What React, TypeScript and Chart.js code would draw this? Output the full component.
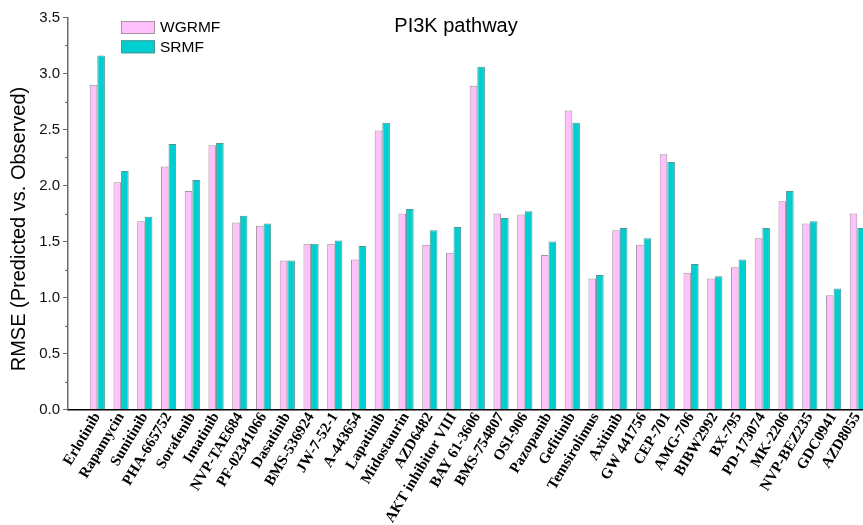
import React, { useEffect, useRef } from 'react';
import { Chart, registerables } from 'chart.js';

Chart.register(...registerables);

// Drugs on the x axis, in plotted order
const drugs = [
  'Erlotinib', 'Rapamycin', 'Sunitinib', 'PHA-665752', 'Sorafenib', 'Imatinib',
  'NVP-TAE684', 'PF-02341066', 'Dasatinib', 'BMS-536924', 'JW-7-52-1', 'A-443654',
  'Lapatinib', 'Midostaurin', 'AZD6482', 'AKT inhibitor VIII', 'BAY 61-3606',
  'BMS-754807', 'OSI-906', 'Pazopanib', 'Gefitinib', 'Temsirolimus', 'Axitinib',
  'GW 441756', 'CEP-701', 'AMG-706', 'BIBW2992', 'BX-795', 'PD-173074', 'MK-2206',
  'NVP-BEZ235', 'GDC0941', 'AZD8055',
];

// RMSE per drug
const wgrmf = [
  2.90, 2.03, 1.68, 2.17, 1.95, 2.36, 1.67, 1.64, 1.33, 1.48, 1.48, 1.34,
  2.49, 1.75, 1.47, 1.40, 2.89, 1.75, 1.74, 1.38, 2.67, 1.17, 1.60, 1.47,
  2.28, 1.22, 1.17, 1.27, 1.53, 1.86, 1.66, 1.02, 1.75,
];
const srmf = [
  3.16, 2.13, 1.72, 2.37, 2.05, 2.38, 1.73, 1.66, 1.33, 1.48, 1.51, 1.46,
  2.56, 1.79, 1.60, 1.63, 3.06, 1.71, 1.77, 1.50, 2.56, 1.20, 1.62, 1.53,
  2.21, 1.30, 1.19, 1.34, 1.62, 1.95, 1.68, 1.08, 1.62,
];

const seriesNames = ['WGRMF', 'SRMF'];
const yMin = 0;
const yMax = 3.5;
const yStep = 0.5;

const TITLE = 'PI3K pathway';
const Y_TITLE = 'RMSE (Predicted vs. Observed)';

const PINK = '#FFC1FB';
const PINK_EDGE = '#A4929F';
const TEAL = '#00CED1';
const TEAL_EDGE = '#4F9696';
const AXIS_GRAY = '#6A6A6A';
const SANS = '"Liberation Sans", Arial, sans-serif';
const SERIF = '"Liberation Serif", "Times New Roman", serif';

// Title, rotated y title, inset legend and minor y ticks
const overlay = {
  id: 'overlay',
  afterDraw(chart: any) {
    const { ctx, chartArea, scales } = chart;
    const y = scales.y;
    ctx.save();

    ctx.strokeStyle = AXIS_GRAY;
    ctx.lineWidth = 1;
    const ticks = y.ticks;
    for (let i = 0; i < ticks.length - 1; i++) {
      const v = (ticks[i].value + ticks[i + 1].value) / 2;
      const py = Math.round(y.getPixelForValue(v)) + 0.5;
      ctx.beginPath();
      ctx.moveTo(chartArea.left - 3, py);
      ctx.lineTo(chartArea.left, py);
      ctx.stroke();
    }

    ctx.fillStyle = '#000';
    ctx.font = `20px ${SANS}`;
    ctx.textAlign = 'center';
    ctx.textBaseline = 'alphabetic';
    ctx.fillText(TITLE, 456, 32);

    ctx.save();
    ctx.translate(19, 229);
    ctx.rotate(-Math.PI / 2);
    ctx.textBaseline = 'middle';
    ctx.fillText(Y_TITLE, 0, 0);
    ctx.restore();

    ctx.font = `15.5px ${SANS}`;
    ctx.textAlign = 'left';
    ctx.textBaseline = 'middle';
    chart.data.datasets.forEach((ds: any, i: number) => {
      const bx = 121;
      const by = 21 + i * 19.3;
      ctx.fillStyle = ds.backgroundColor;
      ctx.fillRect(bx, by, 34, 13);
      ctx.strokeStyle = ds.borderColor;
      ctx.lineWidth = 1;
      ctx.strokeRect(bx + 0.5, by + 0.5, 33, 12);
      ctx.fillStyle = '#000';
      ctx.fillText(ds.label, 160, by + 7);
    });

    ctx.restore();
  },
};

export default function App() {
  const canvasRef = useRef<HTMLCanvasElement | null>(null);

  useEffect(() => {
    const canvas = canvasRef.current;
    if (!canvas) return;

    const toPoints = (vals: number[]) => vals.map((v, i) => ({ x: i, y: v }));

    const chart = new Chart(canvas, {
      type: 'bar',
      data: {
        datasets: [
          {
            label: seriesNames[0],
            data: toPoints(wgrmf),
            backgroundColor: PINK,
            borderColor: PINK_EDGE,
            borderWidth: 1,
          },
          {
            label: seriesNames[1],
            data: toPoints(srmf),
            backgroundColor: TEAL,
            borderColor: TEAL_EDGE,
            borderWidth: 1,
          },
        ],
      },
      options: {
        responsive: false,
        animation: false,
        events: [],
        layout: { padding: { top: 17.5, left: 0, right: 0, bottom: 0 } },
        datasets: {
          bar: { categoryPercentage: 0.64, barPercentage: 1 },
        },
        plugins: {
          legend: { display: false },
          title: { display: false },
          tooltip: { enabled: false },
        },
        scales: {
          x: {
            type: 'linear',
            offset: false,
            min: -1.234,
            max: 32.24,
            grid: { display: false, drawTicks: false, offset: false },
            border: { display: true, color: '#000', width: 1.5 },
            ticks: {
              autoSkip: false,
              minRotation: 59,
              maxRotation: 59,
              padding: 0,
              color: '#000',
              font: { family: SERIF, weight: 'bold', size: 15 },
              callback: (value: any) => drugs[Math.round(Number(value))] ?? '',
            },
            afterBuildTicks: (scale: any) => {
              scale.ticks = drugs.map((_, i) => ({ value: i }));
            },
            afterFit: (scale: any) => {
              scale.height = 115.5;
              scale.paddingLeft = 0;
              scale.paddingRight = 0;
            },
          },
          y: {
            min: yMin,
            max: yMax,
            grid: {
              display: true,
              drawOnChartArea: false,
              drawTicks: true,
              tickLength: 5,
              color: AXIS_GRAY,
            },
            border: { display: true, color: AXIS_GRAY, width: 1.5 },
            ticks: {
              stepSize: yStep,
              padding: 3,
              color: '#111',
              font: { family: SANS, size: 15 },
              callback: (value: any) => Number(value).toFixed(1),
            },
            afterFit: (scale: any) => {
              scale.width = 68;
            },
          },
        },
      },
      plugins: [overlay],
    } as any);

    return () => chart.destroy();
  }, []);

  return (
    <div
      style={{
        position: 'absolute',
        left: 0,
        top: 0,
        width: 863,
        height: 525,
        overflow: 'hidden',
        background: '#fff',
      }}
    >
      <canvas ref={canvasRef} width={863} height={525} style={{ display: 'block' }} />
    </div>
  );
}
